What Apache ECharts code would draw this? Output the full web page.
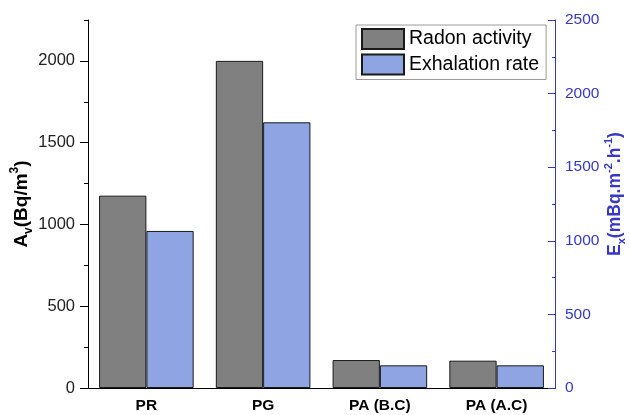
<!DOCTYPE html>
<html>
<head>
<meta charset="utf-8">
<script src="https://cdn.jsdelivr.net/npm/echarts@6/dist/echarts.min.js"></script>
<style>html,body{margin:0;padding:0;background:#fff;}#c{width:629px;height:415px;}</style>
</head>
<body>
<div id="c"></div>
<script>
const categories = ['PR', 'PG', 'PA (B.C)', 'PA (A.C)'];
const radonActivity = [1176, 2000, 171, 167];
const exhalationRate = [1067, 1805, 154, 154];
const leftTicks = [0, 500, 1000, 1500, 2000];
const rightTicks = [0, 500, 1000, 1500, 2000, 2500];

const FONT = '"Liberation Sans", Arial, sans-serif';
const BLUE = '#3636c9';
const chart = echarts.init(document.getElementById('c'), null, {renderer: 'canvas'});
chart.setOption({
  animation: false,
  backgroundColor: '#fff',
  textStyle: {fontFamily: FONT},
  grid: {left: 88, right: 74, top: 20, bottom: 27, containLabel: false, outerBoundsMode: 'none'},
  legend: {
    orient: 'vertical', left: 356, top: 25,
    padding: [3, 7, 4, 5], itemGap: 3.5,
    itemWidth: 42, itemHeight: 20, icon: 'rect',
    borderColor: '#9a9a9a', borderWidth: 1, backgroundColor: '#fff',
    textStyle: {fontSize: 19.5, color: '#000', fontFamily: FONT},
    data: ['Radon activity', 'Exhalation rate']
  },
  xAxis: [{
    type: 'category', data: categories, position: 'bottom',
    axisLine: {lineStyle: {color: '#000', width: 1}},
    axisTick: {alignWithLabel: true, length: 8, lineStyle: {color: '#000'}},
    axisLabel: {fontSize: 15.5, fontWeight: 'bold', color: '#000', margin: 10, fontFamily: FONT},
    splitLine: {show: false}
  }, {
    type: 'category', data: categories, position: 'top',
    axisLine: {lineStyle: {color: '#000', width: 1}},
    axisTick: {show: false}, axisLabel: {show: false}, splitLine: {show: false}
  }],
  yAxis: [{
    type: 'value', position: 'left', min: 0, max: 2250, interval: 250,
    axisLine: {show: true, lineStyle: {color: '#000', width: 1}},
    axisTick: {show: true, length: 4, lineStyle: {color: '#000'}},
    axisLabel: {fontSize: 16.5, color: '#222', margin: 13, fontFamily: FONT,
      formatter: v => (leftTicks.indexOf(v) >= 0 ? String(v) : '')},
    splitLine: {show: false},
    name: '{a|A}{sub|v}{a|(Bq/m}{sup|3}{a|)}',
    nameLocation: 'middle', nameRotate: 90, nameGap: 53, nameMoveOverlap: false,
    nameTextStyle: {
      rich: {
        a: {fontSize: 19, fontWeight: 'bold', color: '#000', lineHeight: 26, fontFamily: FONT},
        sub: {fontSize: 12, fontWeight: 'bold', color: '#000', lineHeight: 12, verticalAlign: 'bottom', fontFamily: FONT},
        sup: {fontSize: 12, fontWeight: 'bold', color: '#000', lineHeight: 12, verticalAlign: 'top', fontFamily: FONT}
      }
    }
  }, {
    type: 'value', position: 'right', min: 0, max: 2500, interval: 500,
    axisLine: {show: true, lineStyle: {color: BLUE, width: 1}},
    axisTick: {show: true, inside: true, length: 7, lineStyle: {color: BLUE}},
    minorTick: {show: true, splitNumber: 2, length: 3, lineStyle: {color: BLUE}},
    axisLabel: {fontSize: 15.5, color: BLUE, margin: 10, fontFamily: FONT,
      formatter: v => (rightTicks.indexOf(v) >= 0 ? String(v) : '')},
    splitLine: {show: false},
    name: '{a|E}{sub|x}{a|(mBq.m}{sup|-2}{a|.h}{sup|-1}{a|)}',
    nameLocation: 'middle', nameRotate: 90, nameGap: 48, nameMoveOverlap: false,
    nameTextStyle: {
      padding: [0, 0, 0, 20],
      rich: {
        a: {fontSize: 17.5, fontWeight: 'bold', color: BLUE, lineHeight: 24, fontFamily: FONT},
        sub: {fontSize: 11, fontWeight: 'bold', color: BLUE, lineHeight: 11, verticalAlign: 'bottom', fontFamily: FONT},
        sup: {fontSize: 11, fontWeight: 'bold', color: BLUE, lineHeight: 11, verticalAlign: 'top', fontFamily: FONT}
      }
    }
  }, {
    type: 'value', position: 'left', min: 0, max: 2250, interval: 500,
    axisLine: {show: false},
    axisTick: {show: true, length: 8, customValues: leftTicks, lineStyle: {color: '#000'}},
    axisLabel: {show: false},
    splitLine: {show: false}
  }],
  series: [{
    name: 'Radon activity', type: 'bar', xAxisIndex: 0, yAxisIndex: 0,
    data: radonActivity, barGap: '0%', barCategoryGap: '19%',
    itemStyle: {color: '#808080', borderColor: '#1a1a1a', borderWidth: 1}
  }, {
    name: 'Exhalation rate', type: 'bar', xAxisIndex: 0, yAxisIndex: 1,
    data: exhalationRate, barGap: '0%', barCategoryGap: '19%',
    itemStyle: {color: '#8fa5e3', borderColor: '#1a1a1a', borderWidth: 1}
  }]
});
</script>
</body>
</html>
